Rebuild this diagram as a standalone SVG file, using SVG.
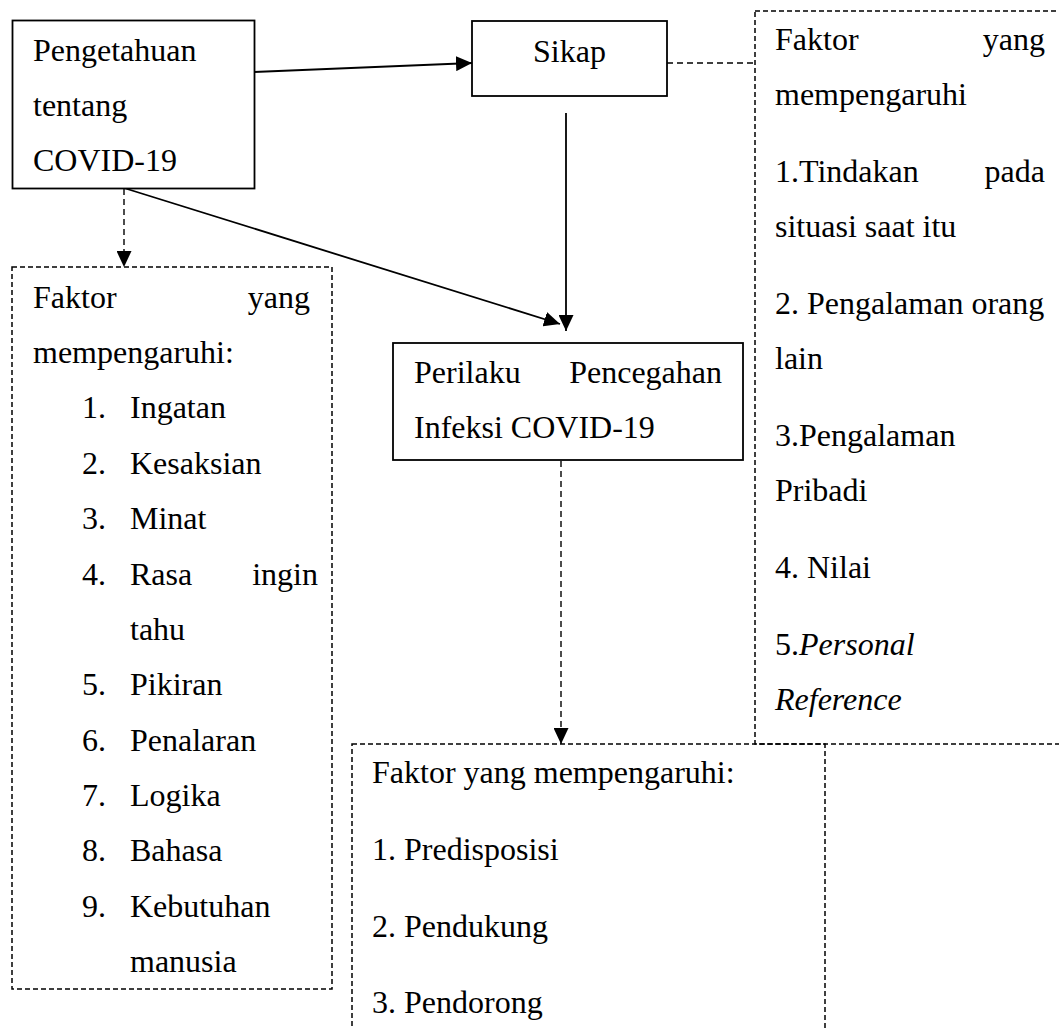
<svg xmlns="http://www.w3.org/2000/svg" width="1059" height="1028" viewBox="0 0 1059 1028">
<style>
text{font-family:"Liberation Serif","Times New Roman",serif;font-size:32px;fill:#000}
.solid{fill:#fff;stroke:#000;stroke-width:1.8}
.dbox{fill:none;stroke:#000;stroke-width:1.5;stroke-dasharray:5,3}
.conn{fill:none;stroke:#000;stroke-width:1.8}
.dconn{fill:none;stroke:#000;stroke-width:1.4;stroke-dasharray:6,4}
.it{font-style:italic}
.end{text-anchor:end}
</style>
<defs>
<marker id="ah" markerUnits="userSpaceOnUse" markerWidth="16" markerHeight="15" refX="16" refY="7.5" orient="auto">
<path d="M0,0 L16,7.5 L0,15 z" fill="#000"/>
</marker>
</defs>
<rect width="1059" height="1028" fill="#fff"/>
<g id="connectors">
<line class="conn" x1="254" y1="72" x2="472" y2="63" marker-end="url(#ah)"/>
<line class="dconn" x1="667" y1="63" x2="755" y2="63"/>
<line class="conn" x1="566" y1="113" x2="566" y2="331" marker-end="url(#ah)"/>
<line class="conn" x1="124" y1="188" x2="560" y2="324" marker-end="url(#ah)"/>
<line class="dconn" x1="124" y1="189" x2="124" y2="267" marker-end="url(#ah)"/>
<line class="dconn" x1="561" y1="461" x2="561" y2="744" marker-end="url(#ah)"/>
</g>
<g id="pengetahuan">
<rect class="solid" x="12.5" y="20.5" width="242" height="168"/>
<text x="33" y="61">Pengetahuan</text>
<text x="33" y="116">tentang</text>
<text x="33" y="171">COVID-19</text>
</g>
<g id="sikap">
<rect class="solid" x="472" y="21" width="195" height="75"/>
<text x="533" y="62">Sikap</text>
</g>
<g id="faktor-sikap">
<rect class="dbox" x="755" y="11" width="330" height="733"/>
<text x="775" y="50">Faktor</text>
<text class="end" x="1045" y="50">yang</text>
<text x="775" y="105">mempengaruhi</text>
<text x="775" y="182">1.Tindakan</text>
<text class="end" x="1045" y="182">pada</text>
<text x="775" y="237">situasi saat itu</text>
<text x="775" y="314">2. Pengalaman orang</text>
<text x="775" y="369">lain</text>
<text x="775" y="446">3.Pengalaman</text>
<text x="775" y="501">Pribadi</text>
<text x="775" y="578">4. Nilai</text>
<text x="775" y="655">5.<tspan class="it">Personal</tspan></text>
<text class="it" x="775" y="710">Reference</text>
</g>
<g id="faktor-pengetahuan">
<rect class="dbox" x="12" y="267" width="320" height="722"/>
<text x="33" y="308">Faktor</text>
<text class="end" x="310" y="308">yang</text>
<text x="33" y="363">mempengaruhi:</text>
<text x="82" y="418">1.</text><text x="130" y="418">Ingatan</text>
<text x="82" y="474">2.</text><text x="130" y="474">Kesaksian</text>
<text x="82" y="529">3.</text><text x="130" y="529">Minat</text>
<text x="82" y="585">4.</text><text x="130" y="585">Rasa</text><text class="end" x="318" y="585">ingin</text>
<text x="130" y="640">tahu</text>
<text x="82" y="695">5.</text><text x="130" y="695">Pikiran</text>
<text x="82" y="751">6.</text><text x="130" y="751">Penalaran</text>
<text x="82" y="806">7.</text><text x="130" y="806">Logika</text>
<text x="82" y="861">8.</text><text x="130" y="861">Bahasa</text>
<text x="82" y="917">9.</text><text x="130" y="917">Kebutuhan</text>
<text x="130" y="972">manusia</text>
</g>
<g id="perilaku">
<rect class="solid" x="393" y="343" width="350" height="117"/>
<text x="414" y="383">Perilaku</text>
<text class="end" x="722" y="383">Pencegahan</text>
<text x="414" y="438">Infeksi COVID-19</text>
</g>
<g id="faktor-perilaku">
<rect class="dbox" x="352" y="744" width="473" height="320"/>
<text x="372" y="783">Faktor yang mempengaruhi:</text>
<text x="372" y="860">1. Predisposisi</text>
<text x="372" y="937">2. Pendukung</text>
<text x="372" y="1013">3. Pendorong</text>
</g>
</svg>
